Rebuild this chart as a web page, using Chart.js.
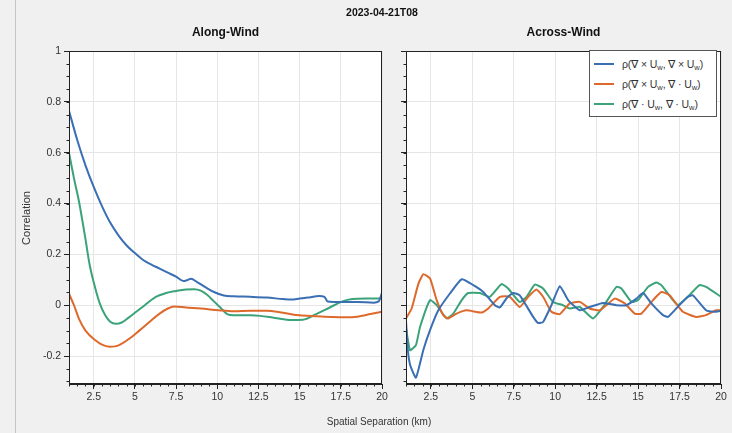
<!DOCTYPE html>
<html>
<head>
<meta charset="utf-8">
<script src="https://cdn.jsdelivr.net/npm/chart.js@4"></script>
<style>
  html, body { margin:0; padding:0; }
  body { width:732px; height:433px; background:#f0f0f0; position:relative; overflow:hidden;
         font-family:"Liberation Sans", Arial, sans-serif; color:#222; }
  canvas { position:absolute; left:0; top:0; }
  .txt { position:absolute; white-space:nowrap; }
  .bold { font-weight:bold; color:#111; }
  #frameline { position:absolute; left:15px; top:0; width:1px; height:433px; background:#c4c4c4; }
  #legend { position:absolute; left:589px; top:50px; width:128px; height:67px; background:#fff;
            border:1px solid #555; box-sizing:border-box; }
  .lrow { position:absolute; left:0; width:126px; height:14px; }
  .lline { position:absolute; left:4px; top:6px; width:20px; height:2px; }
  .ltext { position:absolute; left:32px; top:0; font-size:10.5px; color:#333; line-height:14px; white-space:nowrap; letter-spacing:-0.1px; }
  sub { font-size:7.5px; vertical-align:-2px; line-height:0; }
</style>
</head>
<body>
<div id="frameline"></div>
<canvas id="c1" width="732" height="433"></canvas>
<canvas id="c2" width="732" height="433"></canvas>

<div class="txt bold" style="left:382px; top:6px; font-size:10.5px; transform:translateX(-50%);">2023-04-21T08</div>
<div class="txt bold" style="left:225.5px; top:25px; font-size:12px; transform:translateX(-50%);">Along-Wind</div>
<div class="txt bold" style="left:563.5px; top:25px; font-size:12px; transform:translateX(-50%);">Across-Wind</div>
<div class="txt" style="left:379px; top:416px; transform:translateX(-50%); font-size:10px; color:#333;">Spatial Separation (km)</div>

<div id="legend">
  <div class="lrow" style="top:6px;"><div class="lline" style="background:#3a6fb3"></div><div class="ltext">ρ(∇ × U<sub>w</sub>, ∇ × U<sub>w</sub>)</div></div>
  <div class="lrow" style="top:26px;"><div class="lline" style="background:#dd6a2c"></div><div class="ltext">ρ(∇ × U<sub>w</sub>, ∇ · U<sub>w</sub>)</div></div>
  <div class="lrow" style="top:46px;"><div class="lline" style="background:#3ba37a"></div><div class="ltext">ρ(∇ · U<sub>w</sub>, ∇ · U<sub>w</sub>)</div></div>
</div>

<script>
// ---------- data ----------
const seriesLabels = ["ρ(∇×Uw,∇×Uw)", "ρ(∇×Uw,∇·Uw)", "ρ(∇·Uw,∇·Uw)"];
const seriesColors = ["#3a6fb3", "#dd6a2c", "#3ba37a"];
const xTickValues = [2.5, 5, 7.5, 10, 12.5, 15, 17.5, 20];
const yTickValues = [-0.2, 0, 0.2, 0.4, 0.6, 0.8, 1];
const yAxisTitle = "Correlation";

// Along-Wind
const alongCurlCurlX = [1.0,1.5,2.0,2.5,3.0,3.5,4.0,4.5,5.0,5.5,6.0,6.5,7.0,7.5,7.95,8.15,8.4,8.8,9.3,9.8,10.4,11,12,13,14,14.5,15,15.5,16.2,16.5,16.7,17.5,18.5,19.5,19.8,20];
const alongCurlCurlY = [0.765,0.65,0.55,0.465,0.39,0.325,0.275,0.235,0.205,0.178,0.16,0.144,0.128,0.112,0.095,0.098,0.104,0.09,0.07,0.052,0.038,0.035,0.033,0.03,0.024,0.022,0.026,0.03,0.036,0.033,0.015,0.013,0.013,0.01,0.015,0.05];
const alongCurlDivX = [1.0,1.3,1.65,2.0,2.6,3.0,3.45,3.8,4.1,4.7,5.3,5.9,6.5,7.0,7.4,8.1,9,10.1,11,12,13,14,15,16,17,17.7,18.5,19.3,20];
const alongCurlDivY = [0.045,0.0,-0.06,-0.1,-0.138,-0.155,-0.163,-0.162,-0.155,-0.13,-0.098,-0.065,-0.033,-0.013,-0.005,-0.009,-0.013,-0.02,-0.024,-0.022,-0.022,-0.03,-0.04,-0.043,-0.046,-0.047,-0.045,-0.035,-0.026];
const alongDivDivX = [1.0,1.3,1.6,2.0,2.25,2.5,2.85,3.2,3.5,3.85,4.2,4.6,5.0,5.6,6.2,6.9,7.5,8.1,8.6,9.0,9.4,9.8,10.2,10.6,11,12,12.6,13.5,14.5,15.2,16,16.8,17.6,18.2,19,19.9,20];
const alongDivDivY = [0.6,0.5,0.41,0.26,0.16,0.09,0.01,-0.04,-0.065,-0.073,-0.068,-0.05,-0.03,0.0,0.03,0.048,0.056,0.062,0.063,0.057,0.04,0.015,-0.01,-0.035,-0.04,-0.04,-0.042,-0.05,-0.058,-0.057,-0.035,-0.01,0.015,0.024,0.026,0.026,0.03];

// Across-Wind
const acrossCurlCurlX = [1.0,1.1,1.25,1.6,2.05,2.45,2.95,3.65,4.36,5.06,5.66,6.36,6.66,7.1,7.46,7.86,8.67,8.97,9.27,9.77,10.28,10.78,11.48,12.08,12.88,13.69,14.3,14.9,15.3,15.8,16.5,16.8,17.3,18.0,18.3,19.1,19.7,20];
const acrossCurlCurlY = [-0.06,-0.17,-0.235,-0.285,-0.175,-0.098,-0.02,0.046,0.102,0.079,0.052,0.0,-0.009,0.03,0.048,0.039,-0.046,-0.07,-0.066,0.0,0.075,0.02,-0.02,-0.007,0.009,0.0,0.0,0.026,0.048,0.007,-0.039,-0.046,-0.013,0.033,0.039,-0.02,-0.026,-0.022];
const acrossCurlDivX = [1.0,1.34,1.75,2.05,2.45,2.85,3.25,3.55,4.05,4.65,5.56,5.96,6.66,7.26,7.86,8.37,8.87,9.27,9.77,10.28,10.88,11.48,12.08,12.69,13.59,14.19,14.8,15.2,15.9,16.4,16.9,17.7,18.5,19.1,19.7,20];
const acrossCurlDivY = [-0.052,-0.013,0.085,0.122,0.105,0.02,-0.039,-0.052,-0.033,-0.02,-0.029,-0.013,0.033,0.033,-0.007,0.033,0.062,0.033,-0.026,-0.035,0.007,0.013,-0.013,-0.02,0.026,0.007,-0.033,-0.033,0.02,0.052,0.039,-0.026,-0.046,-0.039,-0.02,-0.02];
const acrossDivDivX = [1.0,1.24,1.6,1.85,2.45,2.85,3.45,3.85,4.36,4.75,5.46,6.06,6.76,7.16,7.86,8.27,8.77,9.27,9.87,10.47,10.88,11.48,12.28,12.88,13.69,13.99,14.6,15.0,15.6,16.1,16.4,17.1,17.4,18.0,18.7,19.1,20];
const acrossDivDivY = [-0.09,-0.177,-0.157,-0.085,0.02,0.0,-0.052,-0.033,0.02,0.048,0.048,0.033,0.083,0.066,0.013,0.033,0.081,0.066,0.013,0.0,-0.013,-0.007,-0.052,-0.007,0.072,0.066,0.013,0.02,0.072,0.089,0.079,0.02,0.0,0.033,0.079,0.072,0.033];

// ---------- helpers ----------
function pts(xs, ys) { return xs.map((x, i) => ({ x: x, y: ys[i] })); }

const plotBgAndFrame = {
  id: 'plotBgAndFrame',
  beforeDraw(chart) {
    const a = chart.chartArea, ctx = chart.ctx;
    ctx.save(); ctx.fillStyle = '#ffffff';
    ctx.fillRect(a.left, a.top, a.right - a.left, a.bottom - a.top);
    ctx.restore();
  },
  afterDraw(chart) {
    const a = chart.chartArea, ctx = chart.ctx;
    ctx.save(); ctx.strokeStyle = '#222'; ctx.lineWidth = 1;
    ctx.strokeRect(Math.round(a.left) + 0.5, Math.round(a.top) + 0.5,
                   Math.round(a.right - a.left) - 1, Math.round(a.bottom - a.top) - 1);
    // minor ticks
    const xs = chart.scales.x, ys = chart.scales.y;
    ctx.beginPath();
    for (let v = 1; v <= 20.001; v += 0.5) {
      const px = Math.round(xs.getPixelForValue(v)) + 0.5;
      ctx.moveTo(px, a.bottom); ctx.lineTo(px, a.bottom + 2.5);
    }
    for (let v = -0.3; v <= 1.0001; v += 0.05) {
      const py = Math.round(ys.getPixelForValue(v)) + 0.5;
      ctx.moveTo(a.left, py); ctx.lineTo(a.left - 2.5, py);
    }
    ctx.stroke();
    ctx.restore();
  }
};

// y axis title drawn as canvas text (rotated), only on left chart
const yTitlePlugin = {
  id: 'yTitlePlugin',
  afterDraw(chart, args, opts) {
    if (!opts.text) return;
    const ctx = chart.ctx;
    ctx.save();
    ctx.translate(27, 218);
    ctx.rotate(-Math.PI / 2);
    ctx.fillStyle = '#333';
    ctx.font = '11px "Liberation Sans", Arial, sans-serif';
    ctx.textAlign = 'center'; ctx.textBaseline = 'middle';
    ctx.fillText(opts.text, 0, 0);
    ctx.restore();
  }
};

function makeChart(id, sets, pad, yWidth, showYLabels, tension) {
  return new Chart(document.getElementById(id), {
    type: 'line',
    data: {
      datasets: sets.map((s, i) => ({
        label: seriesLabels[i],
        data: pts(s[0], s[1]),
        borderColor: seriesColors[i],
        borderWidth: 2,
        pointRadius: 0,
        tension: tension,
        cubicInterpolationMode: tension > 0.25 ? 'monotone' : 'default',
        fill: false
      }))
    },
    options: {
      responsive: false,
      animation: false,
      events: [],
      layout: { padding: pad },
      plugins: { legend: { display: false }, tooltip: { enabled: false }, title: { display: false },
                 yTitlePlugin: { text: showYLabels ? yAxisTitle : '' } },
      scales: {
        x: {
          type: 'linear', min: 1, max: 20,
          afterBuildTicks: (s) => { s.ticks = xTickValues.map(v => ({ value: v })); },
          afterFit: (s) => { s.height = 49; },
          grid: { color: '#e6e6e6', lineWidth: 1, tickLength: 5, tickColor: '#222' },
          border: { display: true, color: '#222', width: 1 },
          ticks: { color: '#333', font: { family: 'Liberation Sans', size: 10.5 }, padding: 2, maxRotation: 0,
                   callback: (v) => String(v) }
        },
        y: {
          type: 'linear', min: -0.31, max: 1,
          afterBuildTicks: (s) => { s.ticks = yTickValues.map(v => ({ value: v })); },
          afterFit: (s) => { s.width = yWidth; },
          grid: { color: '#e6e6e6', lineWidth: 1, tickLength: 5, tickColor: '#222' },
          border: { display: true, color: '#222', width: 1 },
          ticks: { display: showYLabels, color: '#333', font: { family: 'Liberation Sans', size: 10.5 }, padding: 3,
                   callback: (v) => String(Math.round(v * 10) / 10) }
        }
      }
    },
    plugins: [plotBgAndFrame, yTitlePlugin]
  });
}

makeChart('c1',
  [[alongCurlCurlX, alongCurlCurlY], [alongCurlDivX, alongCurlDivY], [alongDivDivX, alongDivDivY]],
  { left: 0, right: 350, top: 51, bottom: 0 }, 69, true, 0.4);

makeChart('c2',
  [[acrossCurlCurlX, acrossCurlCurlY], [acrossCurlDivX, acrossCurlDivY], [acrossDivDivX, acrossDivDivY]],
  { left: 400, right: 11, top: 51, bottom: 0 }, 6, false, 0.15);
</script>
</body>
</html>
